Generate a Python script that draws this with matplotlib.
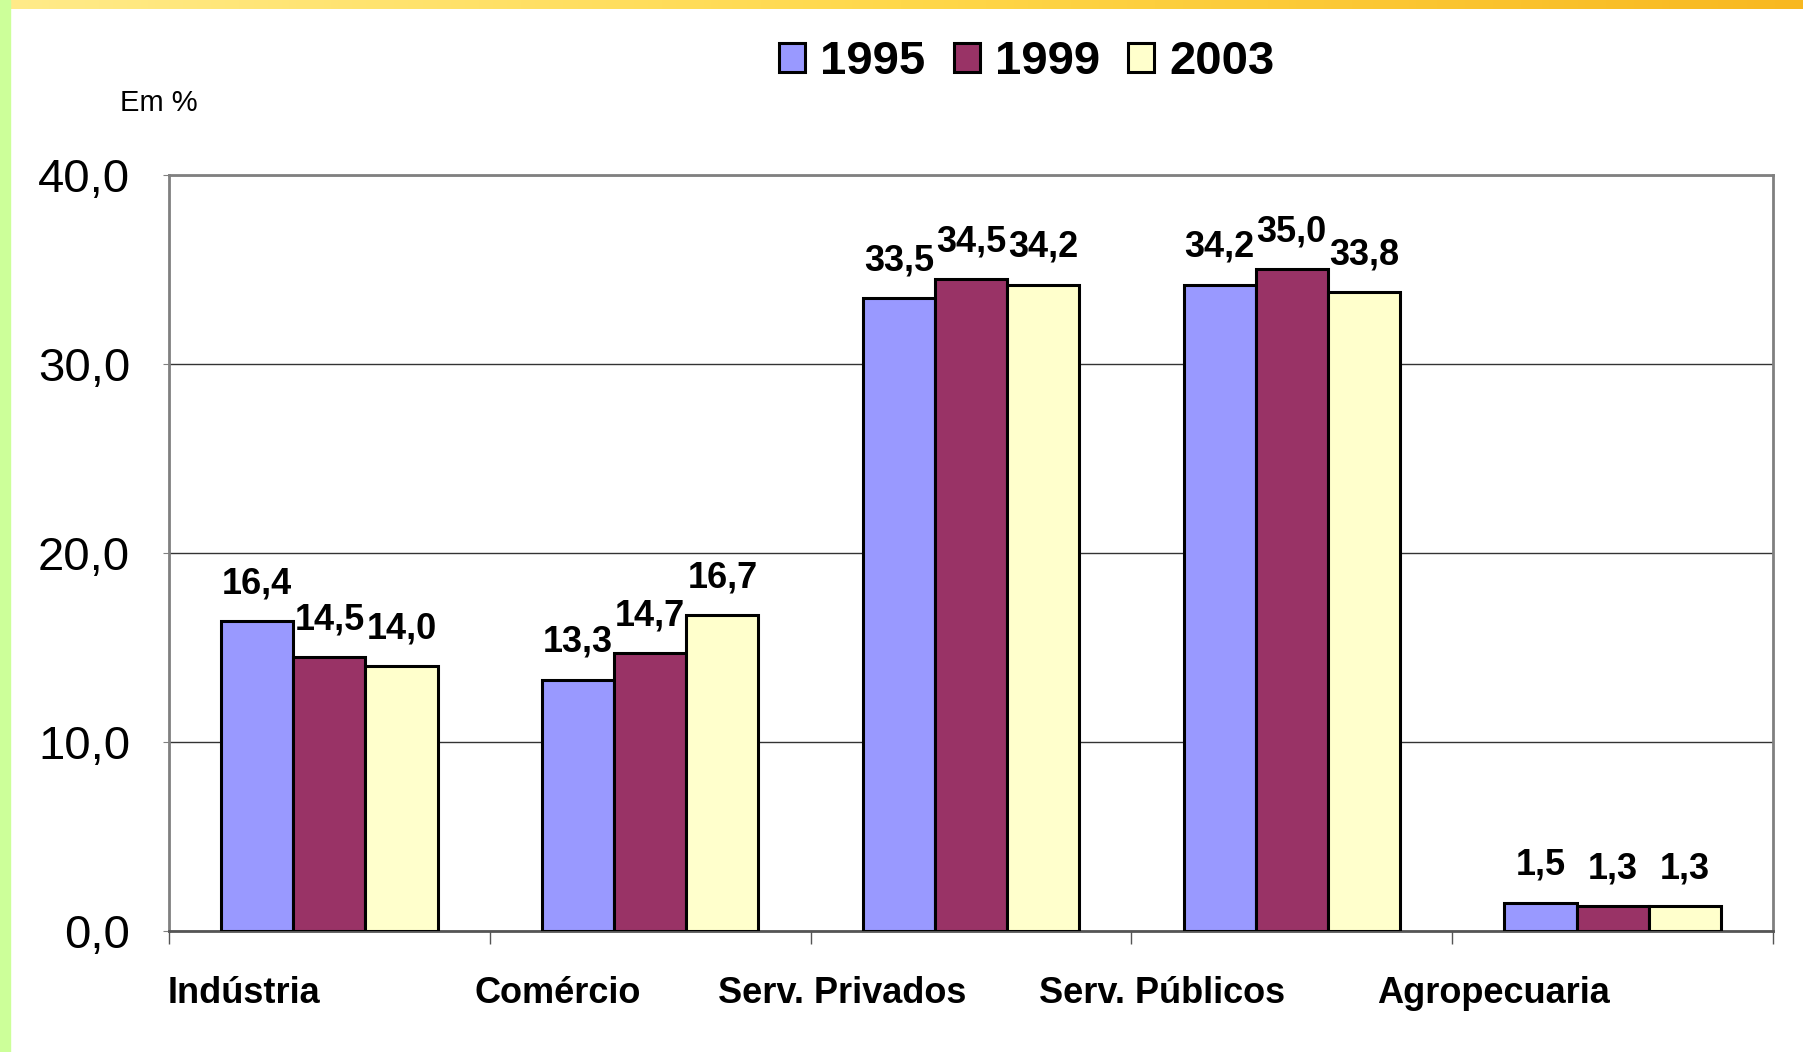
import matplotlib.pyplot as plt
import numpy as np
from matplotlib.colors import LinearSegmentedColormap

# data
categories = ['Indústria', 'Comércio', 'Serv. Privados', 'Serv. Públicos', 'Agropecuaria']
years = ['1995', '1999', '2003']
v1995 = [16.4, 13.3, 33.5, 34.2, 1.5]
v1999 = [14.5, 14.7, 34.5, 35.0, 1.3]
v2003 = [14.0, 16.7, 34.2, 33.8, 1.3]
yticks = [0, 10, 20, 30, 40]

colors = ['#9999FF', '#993366', '#FFFFCC']
label_shift = [-0.265, -0.287, -0.40, -0.405, -0.37]

plt.rcParams['font.family'] = ['Liberation Sans', 'DejaVu Sans']

fig = plt.figure(figsize=(18.03, 10.52), dpi=100)

# decorative slide borders: green strip on the left, yellow band on top
fig.patches.append(plt.Rectangle((0, 0), 10 / 1803, 1, transform=fig.transFigure,
                                 color='#CCFF99', zorder=0))
band = fig.add_axes([0, 1 - 9 / 1052, 1, 9 / 1052])
grad = np.linspace(0, 1, 256).reshape(1, -1)
cmap = LinearSegmentedColormap.from_list('band', ['#FFEB8A', '#FFD84A', '#F8B820'])
band.imshow(grad, aspect='auto', cmap=cmap)
band.axis('off')

ax = fig.add_axes([169 / 1803, 121 / 1052, (1773 - 169) / 1803, (931 - 175) / 1052])

x = np.arange(len(categories))
w = 0.225
series = [v1995, v1999, v2003]
for i, (vals, c, yr) in enumerate(zip(series, colors, years)):
    pos = x + (i - 1) * w
    ax.bar(pos, vals, width=w, color=c, edgecolor='black', linewidth=2.2, label=yr, zorder=3)
    for p, v in zip(pos, vals):
        ax.annotate(f'{v:.1f}'.replace('.', ','), (p, v), xytext=(0, 20),
                    textcoords='offset points', ha='center', va='baseline',
                    fontsize=26, fontweight='bold')

ax.set_xlim(-0.5, len(categories) - 0.5)
ax.set_ylim(0, 40)
ax.set_yticks(yticks)
ax.set_yticklabels([f'{t:.1f}'.replace('.', ',') for t in yticks], fontsize=34)
ax.tick_params(axis='y', length=4, pad=24, color='#808080')
ax.yaxis.grid(True, color='#333333', linewidth=1, zorder=0)

ax.set_xticks(np.arange(len(categories) + 1) - 0.5)
ax.set_xticklabels([])
ax.tick_params(axis='x', length=9, width=1, color='#555555')
for i, lab in enumerate(categories):
    ax.text(i + label_shift[i], -3.3, lab, ha='center', va='center',
            fontsize=26, fontweight='bold')

for s in ['left', 'top', 'right']:
    ax.spines[s].set_color('#808080')
    ax.spines[s].set_linewidth(2)
ax.spines['bottom'].set_color('#555555')
ax.spines['bottom'].set_linewidth(2)

fig.text(120 / 1803, 1 - 103 / 1052, 'Em %', fontsize=21, ha='left', va='center')

fig.legend(loc='center', bbox_to_anchor=(1027 / 1803, 1 - 62 / 1052), ncol=3,
           frameon=False, prop={'size': 34, 'weight': 'bold'},
           handlelength=0.55, handleheight=0.55, handletextpad=0.32,
           columnspacing=0.6)

fig.savefig('out.png', dpi=100)
